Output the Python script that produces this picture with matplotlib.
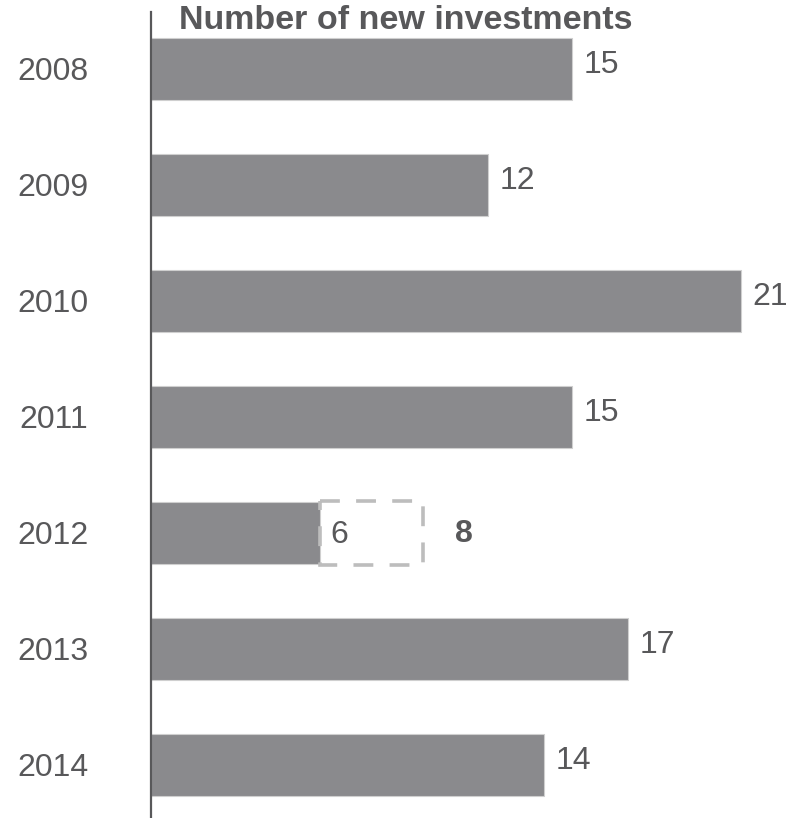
import matplotlib
matplotlib.use("Agg")
import matplotlib.pyplot as plt

years = ["2008", "2009", "2010", "2011", "2012", "2013", "2014"]
investments = [15, 12, 21, 15, 6, 17, 14]
# 2012: partial count shown in the bar, full-year figure shown in bold
full_year_2012 = 8

BAR = "#8a8a8d"
TEXT = "#58585a"
DASH = "#bdbdbd"
FS = 23

plt.rcParams["font.family"] = ["Liberation Sans", "DejaVu Sans"]

fig = plt.figure(figsize=(7.86, 8.18), dpi=100)
ax = fig.add_axes([151 / 786, 0.0, 635 / 786, (818 - 12) / 818])

pos = list(range(len(years)))
ax.barh(pos, investments, height=0.535, color=BAR, edgecolor="#cfcfcf",
        linewidth=0.8, zorder=2)

for i, (yr, v) in enumerate(zip(years, investments)):
    if yr == "2012":
        continue
    ax.annotate(str(v), (v, i), xytext=(8, 3), textcoords="offset points",
                ha="left", va="center", fontsize=FS, color=TEXT,
                annotation_clip=False)

# dashed frame around the 2012 partial value, then the full-year figure
i12 = years.index("2012")
v12 = investments[i12]
ax.barh(i12, 3.7, left=v12, height=0.55, fill=False, edgecolor=DASH,
        linewidth=2.6, linestyle=(0, (5.5, 4.5)), zorder=3)
ax.annotate(str(v12), (v12, i12), xytext=(7.5, -1.5), textcoords="offset points",
            ha="left", va="center", fontsize=FS, color=TEXT)
ax.annotate(str(full_year_2012), (v12 + 3.7, i12), xytext=(23, -1),
            textcoords="offset points", ha="left", va="center",
            fontsize=FS, fontweight="bold", color=TEXT)

for i, yr in enumerate(years):
    ax.annotate(yr, (0, i), xytext=(-45, -2), textcoords="offset points",
                ha="right", va="center", fontsize=FS, color=TEXT,
                annotation_clip=False)

ax.set_xlim(0, 22.61)
ax.set_ylim(len(years) - 1 + 0.457, -0.491)
ax.set_xticks([])
ax.set_yticks([])
for side in ["top", "right", "bottom"]:
    ax.spines[side].set_visible(False)
ax.spines["left"].set_color(TEXT)
ax.spines["left"].set_linewidth(1.6)

fig.text(406 / 786, 1 - 29 / 818, "Number of new investments", ha="center",
         va="baseline", fontsize=24.5, fontweight="bold", color=TEXT)

fig.savefig("out.png", dpi=100)
